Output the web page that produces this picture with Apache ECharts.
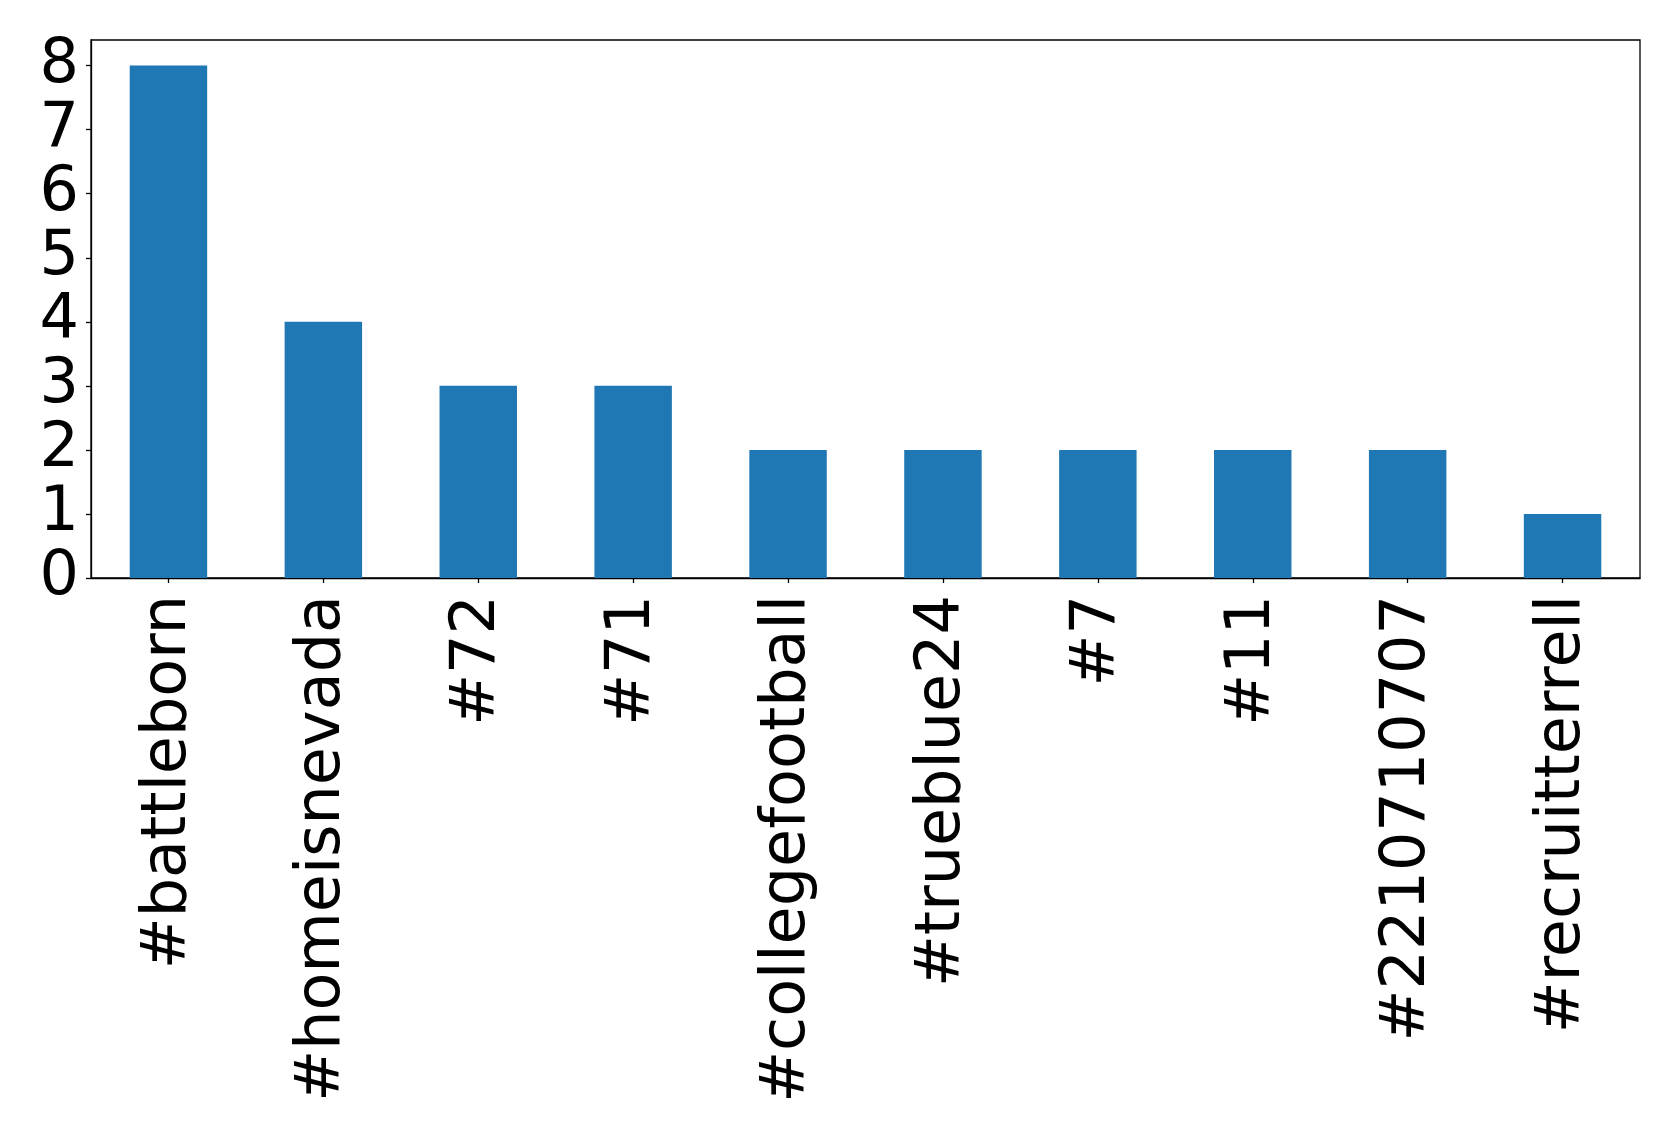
<!DOCTYPE html>
<html>
<head>
<meta charset="utf-8">
<script src="https://cdn.jsdelivr.net/npm/echarts@6/dist/echarts.min.js"></script>
<style>
html,body{margin:0;padding:0;background:#fff;}
#chart{width:1679px;height:1140px;}
</style>
</head>
<body>
<div id="chart"></div>
<script>
const categories = ['#battleborn', '#homeisnevada', '#72', '#71', '#collegefootball', '#trueblue24', '#7', '#11', '#2210710707', '#recruitterrell'];
const counts = [8, 4, 3, 3, 2, 2, 2, 2, 2, 1];
const yTicks = [0, 1, 2, 3, 4, 5, 6, 7, 8];

const chart = echarts.init(document.getElementById('chart'), null, {renderer: 'canvas'});
chart.setOption({
  animation: false,
  backgroundColor: '#ffffff',
  grid: {
    left: 91, right: 39, top: 40, bottom: 562,
    show: true, borderColor: '#000', borderWidth: 1.3, backgroundColor: 'transparent'
  },
  xAxis: {
    type: 'category',
    data: categories,
    boundaryGap: true,
    axisLine: {show: true, lineStyle: {color: '#000', width: 1.3}},
    axisTick: {show: true, alignWithLabel: true, length: 5, lineStyle: {color: '#000', width: 1.3}},
    axisLabel: {
      rotate: 90, interval: 0, margin: 17,
      fontSize: 62, fontFamily: 'DejaVu Sans', color: '#000'
    },
    splitLine: {show: false}
  },
  yAxis: {
    type: 'value',
    min: 0, max: 8.4,
    axisLine: {show: true, lineStyle: {color: '#000', width: 1.3}},
    axisTick: {show: true, length: 5, customValues: yTicks, lineStyle: {color: '#000', width: 1.3}},
    axisLabel: {
      customValues: yTicks, margin: 12,
      fontSize: 62, fontFamily: 'DejaVu Sans', color: '#000'
    },
    splitLine: {show: false}
  },
  series: [{
    type: 'bar',
    data: counts,
    barWidth: '50%',
    itemStyle: {color: '#1f77b4'}
  }]
});
</script>
</body>
</html>
